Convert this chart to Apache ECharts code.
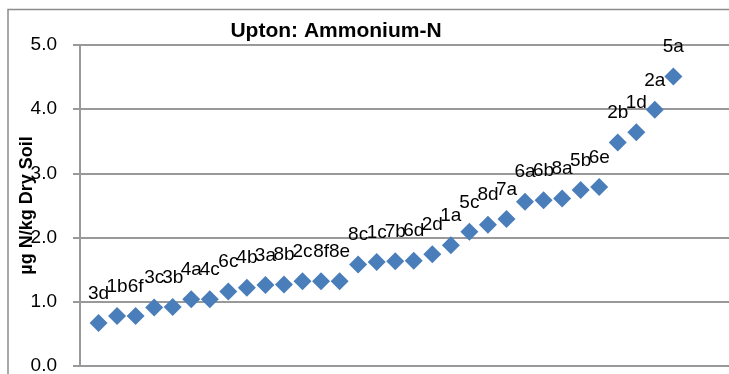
<!DOCTYPE html>
<html>
<head>
<meta charset="utf-8">
<script src="https://cdn.jsdelivr.net/npm/echarts@6/dist/echarts.min.js"></script>
<style>
html,body{margin:0;padding:0;background:#fff;}
#chart{width:729px;height:374px;}
</style>
</head>
<body>
<div id="chart"></div>
<script>
var sampleLabels = ['3d','1b','6f','3c','3b','4a','4c','6c','4b','3a','8b','2c','8f','8e','8c','1c','7b','6d','2d','1a','5c','8d','7a','6a','6b','8a','5b','6e','2b','1d','2a','5a'];
var ammoniumValues = [0.67,0.78,0.78,0.91,0.92,1.04,1.04,1.16,1.22,1.26,1.27,1.32,1.32,1.32,1.58,1.62,1.63,1.64,1.74,1.88,2.09,2.20,2.29,2.56,2.58,2.61,2.74,2.79,3.48,3.64,3.99,4.51];
var yTicks = [0,1,2,3,4,5];

var chart = echarts.init(document.getElementById('chart'));
var data = ammoniumValues.map(function(v,i){
  return {value:[i+1, v], name: sampleLabels[i]};
});
var FONT = '"Liberation Sans", Arial, sans-serif';
chart.setOption({
  animation:false,
  graphic:[{type:'rect', shape:{x:8,y:9.5,width:800,height:500}, style:{fill:'none', stroke:'#8c8c8c', lineWidth:1.5}, z:-1}],
  title:{text:'Upton: Ammonium-N', left:331, top:16, textAlign:'center',
    textStyle:{fontFamily:FONT, fontWeight:'bold', fontSize:21, color:'#000'}},
  grid:{left:80, right:0, top:45, bottom:8, containLabel:false, outerBoundsMode:'none'},
  xAxis:{type:'value', min:0, max:35, show:false},
  yAxis:{type:'value', min:yTicks[0], max:yTicks[yTicks.length-1], interval:1,
    name:'µg N/kg Dry Soil', nameLocation:'middle', nameRotate:90, nameGap:44, nameMoveOverlap:false,
    nameTextStyle:{fontFamily:FONT, fontWeight:'bold', fontSize:18, color:'#000'},
    axisLine:{show:true, lineStyle:{color:'#999', width:2}},
    axisTick:{show:true, length:7, lineStyle:{color:'#999', width:2}},
    splitLine:{show:true, lineStyle:{color:'#999', width:2}},
    axisLabel:{fontFamily:FONT, fontSize:19, color:'#000', margin:23,
      formatter:function(v){return v.toFixed(1);}}
  },
  series:[{type:'scatter', symbol:'diamond', symbolSize:18, data:data,
    itemStyle:{color:'#4A7EBB', opacity:1},
    label:{show:true, position:'top', distance:11, formatter:'{b}',
      fontFamily:FONT, fontSize:19, color:'#000'}
  }]
});
</script>
</body>
</html>
